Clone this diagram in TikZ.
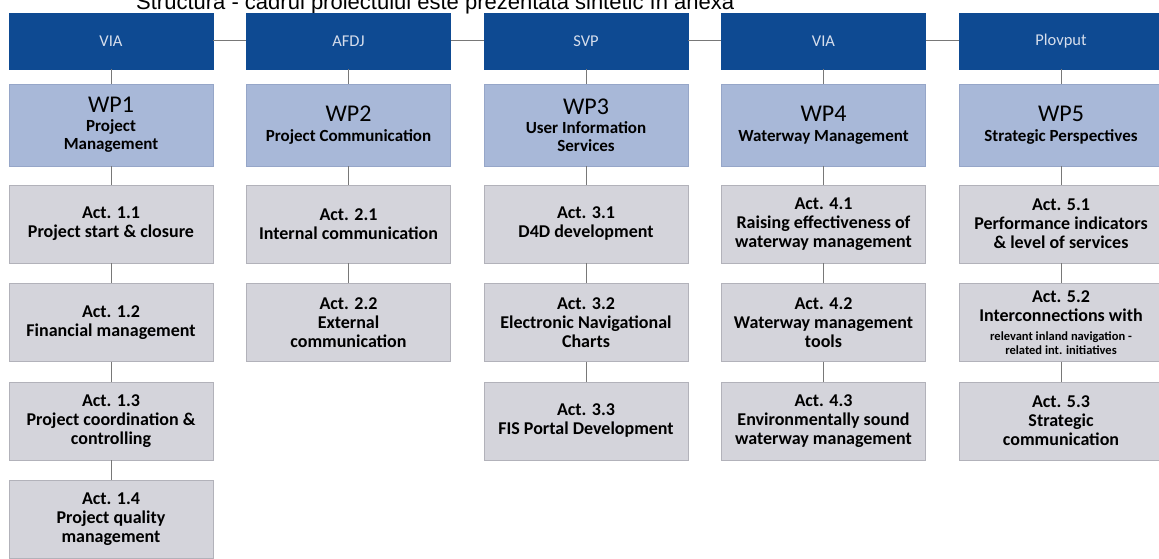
\documentclass[tikz,border=0pt]{standalone}
\usepackage{fontspec}
\setmainfont{Carlito}
\newfontfamily\titlefont{Liberation Sans}
\definecolor{headblue}{RGB}{14,74,146}
\definecolor{headtext}{RGB}{214,222,236}
\definecolor{wpblue}{RGB}{168,184,216}
\definecolor{wpedge}{RGB}{150,166,200}
\definecolor{actgrey}{RGB}{212,212,219}
\definecolor{actedge}{RGB}{178,178,186}
\definecolor{linkgrey}{RGB}{120,120,120}

\begin{document}
\begin{tikzpicture}[x=1pt,y=1pt,
		head/.style={fill=headblue,draw=headblue,minimum width=204pt,minimum height=56pt,inner sep=0pt,text=headtext,font=\fontsize{16.5}{19}\selectfont},
		wp/.style={fill=wpblue,draw=wpedge,minimum width=204pt,minimum height=82pt,inner sep=0pt,align=center,font=\fontsize{17}{18}\selectfont\bfseries},
		act/.style={fill=actgrey,draw=actedge,minimum width=204pt,minimum height=78pt,inner sep=0pt,align=center,font=\fontsize{18}{19}\selectfont\bfseries},
		link/.style={draw=linkgrey,line width=1pt}]
		\useasboundingbox (0,0) rectangle (1159,559);

		\node[anchor=base west,inner sep=0pt,font=\titlefont\fontsize{22}{26}\selectfont] (title) at (136,549) {Structura - cadrul proiectului este prezentată sintetic în anexă};

		\node[head] (h1) at (111,518) {VIA};
		\node[head] (h2) at (348.5,518) {AFDJ};
		\node[head] (h3) at (586,518) {SVP};
		\node[head] (h4) at (823.5,518) {VIA};
		\node[head] (h5) at (1061,518) {Plovput};

		\node[wp] (wp1) at (111,434) {{\fontsize{24}{26}\selectfont\mdseries WP1}\\[1pt]Project\\Management};
		\node[wp] (wp2) at (348.5,434) {{\fontsize{24}{26}\selectfont\mdseries WP2}\\[2pt]Project Communication};
		\node[wp] (wp3) at (586,434) {{\fontsize{24}{26}\selectfont\mdseries WP3}\\[1pt]User Information\\Services};
		\node[wp] (wp4) at (823.5,434) {{\fontsize{24}{26}\selectfont\mdseries WP4}\\[2pt]Waterway Management};
		\node[wp] (wp5) at (1061,434) {{\fontsize{24}{26}\selectfont\mdseries WP5}\\[2pt]Strategic Perspectives};

		\node[act] (a11) at (111,335) {Act. 1.1\\Project start \& closure};
		\node[act] (a12) at (111,236.5) {Act. 1.2\\Financial management};
		\node[act] (a13) at (111,138) {Act. 1.3\\Project coordination \&\\controlling};
		\node[act] (a14) at (111,39.5) {Act. 1.4\\Project quality\\management};

		\node[act] (a21) at (348.5,335) {Act. 2.1\\Internal communication};
		\node[act] (a22) at (348.5,236.5) {Act. 2.2\\External\\communication};

		\node[act] (a31) at (586,335) {Act. 3.1\\D4D development};
		\node[act] (a32) at (586,236.5) {Act. 3.2\\Electronic Navigational\\Charts};
		\node[act] (a33) at (586,138) {Act. 3.3\\FIS Portal Development};

		\node[act] (a41) at (823.5,335) {Act. 4.1\\Raising effectiveness of\\waterway management};
		\node[act] (a42) at (823.5,236.5) {Act. 4.2\\Waterway management\\tools};
		\node[act] (a43) at (823.5,138) {Act. 4.3\\Environmentally sound\\waterway management};

		\node[act] (a51) at (1061,335) {Act. 5.1\\Performance indicators\\\& level of services};
		\node[act] (a52) at (1061,236.5) {Act. 5.2\\Interconnections with\\{\fontsize{12.5}{13}\selectfont relevant inland navigation -}\\[-5pt]{\fontsize{12.5}{13}\selectfont related int. initiatives}};
		\node[act] (a53) at (1061,138) {Act. 5.3\\Strategic\\communication};

		\draw[link] (h1) -- (h2) (h2) -- (h3) (h3) -- (h4) (h4) -- (h5);
		\draw[link] (h1) -- (wp1) (wp1) -- (a11) (a11) -- (a12) (a12) -- (a13) (a13) -- (a14);
		\draw[link] (h2) -- (wp2) (wp2) -- (a21) (a21) -- (a22);
		\draw[link] (h3) -- (wp3) (wp3) -- (a31) (a31) -- (a32) (a32) -- (a33);
		\draw[link] (h4) -- (wp4) (wp4) -- (a41) (a41) -- (a42) (a42) -- (a43);
		\draw[link] (h5) -- (wp5) (wp5) -- (a51) (a51) -- (a52) (a52) -- (a53);
	\end{tikzpicture}
\end{document}
